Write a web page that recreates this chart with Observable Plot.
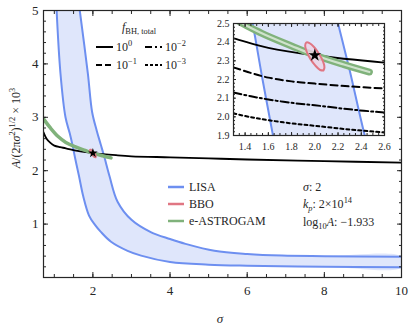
<!DOCTYPE html>
<html><head><meta charset="utf-8">
<script src="https://cdn.jsdelivr.net/npm/d3@7"></script>
<script src="https://cdn.jsdelivr.net/npm/@observablehq/plot@0.6"></script>
<style>
body{margin:0;background:#fff;}
#wrap{position:relative;width:409px;height:329px;overflow:hidden;}
#wrap svg{position:absolute;}
</style></head><body><div id="wrap"></div>
<script>
// ---- data ----
const lisaLowerSigma = [1.06,1.16,1.29,1.40,1.465,1.55,1.64,1.75,1.9,2.05,2.2,2.47,2.9,3.25,4,5,6,8,10];
const lisaLowerValue = [5,3.82,3.0,2.7,2.5,2.2,1.9,1.52,1.16,0.99,0.86,0.67,0.5,0.41,0.29,0.24,0.22,0.2,0.19];
const lisaUpperSigma = [1.66,1.87,1.98,2.1,2.2,2.3,2.43,2.64,3.0,3.5,4.0,4.4,5.15,6,6.9,8,10];
const lisaUpperValue = [5,3.82,3.1,2.75,2.5,2.25,1.9,1.42,1.08,0.85,0.72,0.63,0.5,0.44,0.41,0.4,0.39];
const f0Sigma = [0.72,0.8,0.9,1.0,1.15,1.3,1.6,2.0,2.6,3,4,5,6,8,10];
const f0Value = [2.72,2.6,2.52,2.47,2.44,2.42,2.37,2.33,2.29,2.27,2.25,2.23,2.21,2.18,2.15];
const fInsetSigma = [1.3,1.45,1.6,1.8,2.0,2.3,2.6];
const f1Value = [2.265,2.235,2.21,2.19,2.178,2.163,2.152];
const f2Value = [2.13,2.11,2.093,2.075,2.062,2.04,2.023];
const f3Value = [2.018,1.998,1.982,1.965,1.952,1.932,1.916];
const greenSigma = [0.72,0.9,1.1,1.3,1.535,1.8,2.0,2.25,2.47];
const greenValue = [2.97,2.8,2.64,2.53,2.45,2.38,2.33,2.28,2.24];
const bboSigma = [2.074,2.083,2.070,2.037,1.995,1.954,1.926,1.917,1.930,1.963,2.005,2.046,2.074];
const bboValue = [2.248,2.265,2.298,2.337,2.373,2.395,2.398,2.381,2.349,2.309,2.274,2.251,2.248];
const bestFit = {sigma: 2, value: 2.33};
const xMajor = [2,4,6,8,10];
const yMajor = [1,2,3,4,5];
const insetXMajor = [1.4,1.6,1.8,2.0,2.2,2.4,2.6];
const insetYMajor = [1.9,2.0,2.1,2.2,2.3,2.4,2.5];

// ---- helpers ----
const zip = (S, V) => S.map((s, i) => ({s, v: V[i]}));
const lisaLower = zip(lisaLowerSigma, lisaLowerValue);
const lisaUpper = zip(lisaUpperSigma, lisaUpperValue);
const band = [...lisaLower, ...lisaUpper.slice().reverse()];
const f0 = zip(f0Sigma, f0Value);
const f1 = zip(fInsetSigma, f1Value), f2 = zip(fInsetSigma, f2Value), f3 = zip(fInsetSigma, f3Value);
const green = zip(greenSigma, greenValue);
const bbo = zip(bboSigma, bboValue);
const star = [{s: bestFit.sigma, v: bestFit.value}];
const range = (a, b, st) => d3.range(Math.round((b - a) / st) + 1).map(i => +(a + i * st).toFixed(3));

const BLUE = "#6d8ff0", BANDFILL = "#dfe6fb", GREEN = "#80b27b", RED = "#e07683", INK = "#262626";
const FONT = "'Liberation Serif', 'Times New Roman', serif";
const CURVE = "catmull-rom";

function frameTicks(xMaj, xMin, yMaj, yMin, big, small) {
  const none = () => "";
  const out = [];
  for (const anchor of ["bottom", "top"]) {
    out.push(Plot.axisX({anchor, ticks: xMaj, tickSize: -big, tickFormat: none, label: null, stroke: INK}));
    out.push(Plot.axisX({anchor, ticks: xMin, tickSize: -small, tickFormat: none, label: null, stroke: INK}));
  }
  for (const anchor of ["left", "right"]) {
    out.push(Plot.axisY({anchor, ticks: yMaj, tickSize: -big, tickFormat: none, label: null, stroke: INK}));
    out.push(Plot.axisY({anchor, ticks: yMin, tickSize: -small, tickFormat: none, label: null, stroke: INK}));
  }
  return out;
}

// ---- main plot ----
const main = Plot.plot({
  width: 409, height: 329,
  marginLeft: 43, marginRight: 8, marginTop: 10, marginBottom: 52,
  x: {domain: [0.72, 10], label: null},
  y: {domain: [0, 5], label: null},
  style: {fontFamily: FONT, fontSize: "13px", color: INK, background: "white"},
  marks: [
    Plot.line(band, {x: "s", y: "v", fill: BANDFILL, stroke: "none", curve: CURVE, clip: true}),
    Plot.line(lisaLower, {x: "s", y: "v", stroke: BLUE, strokeWidth: 2, curve: CURVE, clip: true}),
    Plot.line(lisaUpper, {x: "s", y: "v", stroke: BLUE, strokeWidth: 2, curve: CURVE, clip: true}),
    Plot.line(f0, {x: "s", y: "v", stroke: "black", strokeWidth: 1.8, curve: CURVE, clip: true}),
    Plot.line(green, {x: "s", y: "v", stroke: GREEN, strokeWidth: 3.5, strokeLinecap: "round", curve: CURVE, clip: true}),
    Plot.line(bbo, {x: "s", y: "v", fill: "#f2c2cc", stroke: RED, strokeWidth: 1.5, clip: true}),
    Plot.dot(star, {x: "s", y: "v", symbol: "star", fill: "black", r: 3}),
    Plot.frame({stroke: INK, strokeWidth: 1.2}),
    ...frameTicks(xMajor, range(1, 10, 0.5), yMajor, range(0.2, 5, 0.2), 5, 3),
    Plot.axisX({anchor: "bottom", ticks: xMajor, tickSize: 0, tickPadding: 8, tickFormat: d => String(d), label: null}),
    Plot.axisY({anchor: "left", ticks: yMajor, tickSize: 0, tickPadding: 5, tickFormat: d => String(d), label: null})
  ]
});
main.style.left = "0px"; main.style.top = "0px";
document.getElementById("wrap").appendChild(main);

// ---- inset ----
const inset = Plot.plot({
  width: 190, height: 145,
  marginLeft: 33, marginRight: 6, marginTop: 11, marginBottom: 22,
  x: {domain: [1.3, 2.6], label: null},
  y: {domain: [1.9, 2.5], label: null},
  style: {fontFamily: FONT, fontSize: "10px", color: INK, background: "transparent", overflow: "visible"},
  marks: [
    Plot.frame({fill: "white", stroke: "none"}),
    Plot.line(band, {x: "s", y: "v", fill: BANDFILL, stroke: "none", curve: CURVE, clip: true}),
    Plot.line(lisaLower, {x: "s", y: "v", stroke: BLUE, strokeWidth: 2, curve: CURVE, clip: true}),
    Plot.line(lisaUpper, {x: "s", y: "v", stroke: BLUE, strokeWidth: 2, curve: CURVE, clip: true}),
    Plot.line(f3, {x: "s", y: "v", stroke: "black", strokeWidth: 2, strokeDasharray: "3,3", curve: CURVE, clip: true}),
    Plot.line(f2, {x: "s", y: "v", stroke: "black", strokeWidth: 2, strokeDasharray: "8,3,2,3", curve: CURVE, clip: true}),
    Plot.line(f1, {x: "s", y: "v", stroke: "black", strokeWidth: 2, strokeDasharray: "7,4", curve: CURVE, clip: true}),
    Plot.line(f0, {x: "s", y: "v", stroke: "black", strokeWidth: 1.8, curve: CURVE, clip: true}),
    Plot.line(green, {x: "s", y: "v", stroke: GREEN, strokeWidth: 7, strokeLinecap: "round", curve: CURVE, clip: true}),
    Plot.line(green, {x: "s", y: "v", stroke: "#cfe3cc", strokeWidth: 2.2, strokeLinecap: "round", curve: CURVE, clip: true}),
    Plot.line(bbo, {x: "s", y: "v", fill: "#ecd3e6", fillOpacity: 0.8, stroke: RED, strokeWidth: 2, curve: "catmull-rom-closed", clip: true}),
    Plot.dot(star, {x: "s", y: "v", symbol: "star", fill: "black", r: 4}),
    Plot.frame({stroke: INK, strokeWidth: 1.2}),
    ...frameTicks(insetXMajor, range(1.3, 2.6, 0.05), insetYMajor, range(1.9, 2.5, 0.02), 3, 2),
    Plot.axisX({anchor: "bottom", ticks: insetXMajor, tickSize: 0, tickPadding: 7, tickFormat: d => d.toFixed(1), label: null}),
    Plot.axisY({anchor: "left", ticks: insetYMajor, tickSize: 0, tickPadding: 4, tickFormat: d => d.toFixed(1), label: null})
  ]
});
inset.style.left = "200px"; inset.style.top = "12px";
document.getElementById("wrap").appendChild(inset);

// ---- rich text (labels, legends) on the main SVG ----
const svg = d3.select(main);
function rich(x, y, parts, size = 12, anchor = "start", transform = null) {
  const t = svg.append("text").attr("x", x).attr("y", y)
    .attr("font-family", FONT).attr("font-size", size).attr("fill", INK)
    .attr("text-anchor", anchor);
  if (transform) t.attr("transform", transform);
  let shift = 0;
  for (const p of parts) {
    const [s, kind = ""] = Array.isArray(p) ? p : [p];
    let target = 0, fs = size;
    if (kind.includes("sup")) { target = -size * 0.42; fs = size * 0.7; }
    if (kind.includes("sub")) { target = size * 0.28; fs = size * 0.7; }
    const ts = t.append("tspan").text(s).attr("dy", target - shift).attr("font-size", fs);
    if (kind.includes("i")) ts.attr("font-style", "italic");
    shift = target;
  }
  return t;
}
function swatch(x1, x2, y, color, dash, width = 2) {
  svg.append("line").attr("x1", x1).attr("x2", x2).attr("y1", y).attr("y2", y)
    .attr("stroke", color).attr("stroke-width", width).attr("stroke-dasharray", dash || null);
}

// axis labels
rich(220, 323, [["σ", "i"]], 13, "middle");
rich(0, 0, [["A", "i"], "/(2π", ["σ", "i"], ["2", "sup"], ")", ["1/2", "sup"], " × 10", ["3", "sup"]], 12, "middle",
  "translate(20,128) rotate(-90)");

// f_BH legend
const fLegend = [
  {label: "0", dash: null, col: 0, row: 0},
  {label: "−1", dash: "6,3", col: 0, row: 1},
  {label: "−2", dash: "7,3,2,3", col: 1, row: 0},
  {label: "−3", dash: "3,2", col: 1, row: 1}
];
rich(122, 31, [["f", "i"], ["BH, total", "sub"]], 12);
for (const e of fLegend) {
  const x0 = 96 + e.col * 49, y0 = 47 + e.row * 18;
  swatch(x0, x0 + 17, y0, "black", e.dash, 2);
  rich(x0 + 20, y0 + 4, ["10", [e.label, "sup"]], 12);
}

// detector legend
const detectors = [["LISA", BLUE], ["BBO", RED], ["e-ASTROGAM", GREEN]];
detectors.forEach(([name, color], i) => {
  const y0 = 187 + i * 17;
  swatch(168, 184, y0, color, null, 2.5);
  rich(189, y0 + 4, [name], 12);
});

// parameter annotation
rich(303, 191, [["σ", "i"], ": 2"], 12);
rich(303, 208, [["k", "i"], ["p", "isub"], ": 2×10", ["14", "sup"]], 12);
rich(303, 226, ["log", ["10", "sub"], ["A", "i"], ": −1.933"], 12);
</script></body></html>
